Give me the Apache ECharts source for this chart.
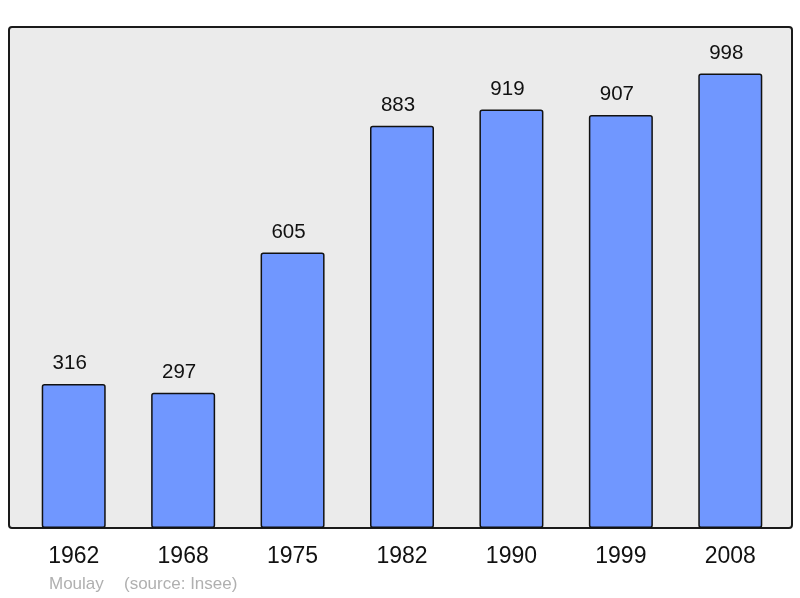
<!DOCTYPE html>
<html>
<head>
<meta charset="utf-8">
<script src="https://cdn.jsdelivr.net/npm/echarts@6/dist/echarts.min.js"></script>
<style>
  html, body { margin: 0; padding: 0; background: #fff; }
  #chart { width: 800px; height: 598px; }
</style>
</head>
<body>
<div id="chart"></div>
<script>
// population data
const years = ['1962', '1968', '1975', '1982', '1990', '1999', '2008'];
const population = [316, 297, 605, 883, 919, 907, 998];
const townName = 'Moulay';
const sourceText = '(source: Insee)';

const chart = echarts.init(document.getElementById('chart'));

const option = {
    animation: false,
    grid: {
        left: 19,
        right: 15,
        top: 27,
        bottom: 70
    },
    graphic: [
        {
            type: 'rect',
            z: -10,
            shape: { x: 9, y: 27, width: 783, height: 501, r: 3 },
            style: { fill: '#ebebeb', stroke: '#1a1a1a', lineWidth: 2 }
        },
        {
            type: 'text',
            left: 49,
            top: 576,
            style: { text: townName, fill: '#b0b0b0', font: '17px "Liberation Sans"' }
        },
        {
            type: 'text',
            left: 124,
            top: 576,
            style: { text: sourceText, fill: '#b0b0b0', font: '17px "Liberation Sans"' }
        }
    ],
    xAxis: {
        type: 'category',
        data: years,
        axisLine: { show: false },
        axisTick: { show: false },
        axisLabel: {
            margin: 17,
            fontSize: 23,
            color: '#111',
            fontFamily: 'Liberation Sans'
        }
    },
    yAxis: {
        type: 'value',
        min: 0,
        max: 1100,
        show: false,
        splitLine: { show: false }
    },
    series: [{
        type: 'bar',
        data: population,
        barWidth: 64,
        itemStyle: {
            color: '#7097ff',
            borderColor: '#111',
            borderWidth: 1.5,
            borderRadius: 2
        },
        label: {
            show: true,
            position: 'top',
            distance: 10,
            offset: [-4, 0],
            fontSize: 20.5,
            color: '#111',
            fontFamily: 'Liberation Sans'
        }
    }]
};

chart.setOption(option);
</script>
</body>
</html>
